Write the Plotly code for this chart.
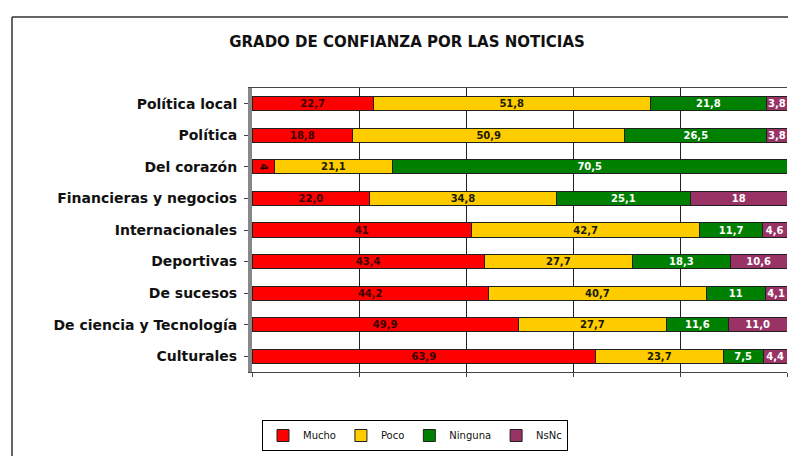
import plotly.graph_objects as go

categories = ["Política local", "Política", "Del corazón", "Financieras y negocios",
              "Internacionales", "Deportivas", "De sucesos",
              "De ciencia y Tecnología", "Culturales"]
# values as printed on the chart (Spanish decimal comma)
mucho = ["22,7", "18,8", "4", "22,0", "41", "43,4", "44,2", "49,9", "63,9"]
poco = ["51,8", "50,9", "21,1", "34,8", "42,7", "27,7", "40,7", "27,7", "23,7"]
ninguna = ["21,8", "26,5", "70,5", "25,1", "11,7", "18,3", "11", "11,6", "7,5"]
nsnc = ["3,8", "3,8", "0", "18", "4,6", "10,6", "4,1", "11,0", "4,4"]

series = [("Mucho", mucho, "#FF0000", "#3a0000"),
          ("Poco", poco, "#FFCC00", "#1a1a00"),
          ("Ninguna", ninguna, "#008000", "#FFFFFF"),
          ("NsNc", nsnc, "#993366", "#FFFFFF")]


def num(s):
    return float(s.replace(",", "."))


fig = go.Figure()
for name, vals, color, tcolor in series:
    fig.add_trace(go.Bar(
        y=categories, x=[num(v) for v in vals], name=name, orientation="h",
        marker=dict(color=color, line=dict(color="#202020", width=1)),
        text=vals, textposition="inside",
        insidetextanchor="middle", cliponaxis=False,
        textfont=dict(family="DejaVu Sans", size=10, color=tcolor, weight="bold"),
        hoverinfo="x+y+name",
    ))

# page has an 8px body margin; figure sized to fill the 796x464 window
W, H = 780, 448
L, R, T, B = 244, 1, 80, 84
pw, ph = W - L - R, H - T - B

fig.update_layout(
    width=W, height=H,
    barmode="stack", barnorm="percent", bargap=0.55,
    paper_bgcolor="white", plot_bgcolor="white",
    margin=dict(l=L, r=R, t=T, b=B),
    title=dict(text="<b>GRADO DE CONFIANZA POR LAS NOTICIAS</b>",
               x=399 / W, xanchor="center", y=1 - 34 / H, yanchor="middle",
               font=dict(family="DejaVu Sans", size=15, color="#111111")),
    uniformtext=dict(minsize=10, mode="show"),
    legend=dict(orientation="h", x=(254 - L) / pw, xanchor="left",
                y=-(412 - (T + ph)) / ph, yanchor="top",
                bordercolor="black", borderwidth=1, bgcolor="white",
                font=dict(family="DejaVu Sans", size=10, color="#111111"),
                traceorder="normal", itemwidth=30),
    xaxis=dict(range=[0, 100], dtick=20, showgrid=True, gridcolor="#222222",
               gridwidth=1, showticklabels=False, zeroline=False,
               showline=True, linecolor="#444444", mirror=True,
               ticks="outside", ticklen=4, tickcolor="#444444"),
    yaxis=dict(autorange="reversed", showgrid=False,
               showline=True, linecolor="#888888", linewidth=4,
               ticks="outside", ticklen=4, tickcolor="#444444",
               ticklabelstandoff=4,
               tickfont=dict(family="DejaVu Sans", size=14, color="#111111",
                             weight="bold")),
    showlegend=True,
)

# outer chart border (left and top edges)
ytop = (T + ph - 9) / ph
xleft = (4 - L) / pw
fig.add_shape(type="line", xref="paper", yref="paper",
              x0=xleft, x1=(W + 5 - L) / pw, y0=ytop, y1=ytop,
              line=dict(color="#333333", width=1.5))
fig.add_shape(type="line", xref="paper", yref="paper",
              x0=xleft, x1=xleft, y0=ytop, y1=-(H + 5 - T - ph) / ph,
              line=dict(color="#333333", width=1.5))

fig.write_html("out.html")
